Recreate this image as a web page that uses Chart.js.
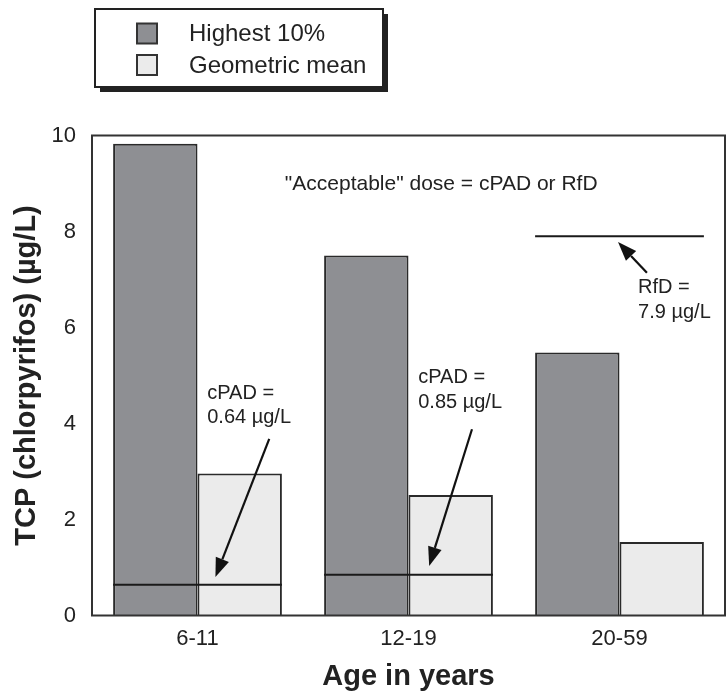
<!DOCTYPE html>
<html>
<head>
<meta charset="utf-8">
<script src="https://cdn.jsdelivr.net/npm/chart.js@4.4.1/dist/chart.umd.min.js"></script>
<style>
  html, body { margin: 0; padding: 0; background: #fff; }
  #wrap { width: 727px; height: 696px; position: relative; }
</style>
</head>
<body>
<div id="wrap"><canvas id="c"></canvas></div>
<script>
// ---- data ----
const categories = ['6-11', '12-19', '20-59'];
const seriesNames = ['Highest 10%', 'Geometric mean'];
const highest10 = [9.83, 7.50, 5.48];
const geometricMean = [2.96, 2.51, 1.53];
const yTickValues = [0, 2, 4, 6, 8, 10];
const limitValues = [0.64, 0.85, 7.9];
const limitNames = ['cPAD =', 'cPAD =', 'RfD ='];
const limitTexts = ['0.64 \u00b5g/L', '0.85 \u00b5g/L', '7.9 \u00b5g/L'];
const noteText = '"Acceptable" dose = cPAD or RfD';

const FONT = '"Liberation Sans", Arial, Helvetica, sans-serif';
const INK = '#222';
const darkFill = '#8e8f93';
const lightFill = '#ebebeb';
const edge = '#2a2a2a';

// annotation placement in data units: [category offset (fraction of category), value]
const labelAnchors = [[0.046, 4.635], [0.046, 4.95], [0.088, 6.83]];
const arrowTails = [[0.340, 3.68], [0.301, 3.88], [0.130, 7.14]];
const arrowTips  = [[0.085, 0.80], [0.098, 1.03], [-0.007, 7.78]];
const noteAnchor = [1.155, 8.99];

const annotPlugin = {
  id: 'annot',
  afterDatasetsDraw(chart) {
    const {ctx, chartArea: a, scales: {x, y}} = chart;
    const catW = a.width / categories.length;
    const px = (i, off) => x.getPixelForValue(i) + off * catW;
    const m0 = chart.getDatasetMeta(0), m1 = chart.getDatasetMeta(1);
    ctx.save();
    // limit lines
    ctx.strokeStyle = '#1a1a1a';
    ctx.lineWidth = 2;
    limitValues.forEach((v, i) => {
      const b0 = m0.data[i], b1 = m1.data[i];
      const x0 = b0.x - b0.width / 2, x1 = b1.x + b1.width / 2;
      const yy = y.getPixelForValue(v);
      ctx.beginPath(); ctx.moveTo(x0, yy); ctx.lineTo(x1, yy); ctx.stroke();
    });
    // arrows
    limitValues.forEach((v, i) => {
      const tx = px(i, arrowTails[i][0]), ty = y.getPixelForValue(arrowTails[i][1]);
      const hx = px(i, arrowTips[i][0]), hy = y.getPixelForValue(arrowTips[i][1]);
      const ang = Math.atan2(hy - ty, hx - tx);
      const L = 19, W = 7;
      const bx = hx - L * Math.cos(ang), by = hy - L * Math.sin(ang);
      ctx.strokeStyle = '#111'; ctx.lineWidth = 2.2;
      ctx.beginPath(); ctx.moveTo(tx, ty); ctx.lineTo(bx, by); ctx.stroke();
      ctx.fillStyle = '#111';
      ctx.beginPath();
      ctx.moveTo(hx, hy);
      ctx.lineTo(bx + W * Math.sin(ang), by - W * Math.cos(ang));
      ctx.lineTo(bx - W * Math.sin(ang), by + W * Math.cos(ang));
      ctx.closePath(); ctx.fill();
    });
    // labels
    ctx.fillStyle = INK;
    ctx.font = '20px ' + FONT;
    ctx.textAlign = 'left'; ctx.textBaseline = 'middle';
    limitValues.forEach((v, i) => {
      const lx = px(i, labelAnchors[i][0]), ly = y.getPixelForValue(labelAnchors[i][1]);
      ctx.fillText(limitNames[i], lx, ly);
      ctx.fillText(limitTexts[i], lx, ly + 24.5);
    });
    ctx.font = '21px ' + FONT;
    ctx.textAlign = 'center';
    const ni = Math.floor(noteAnchor[0]);
    ctx.fillText(noteText, px(ni, noteAnchor[0] - ni), y.getPixelForValue(noteAnchor[1]));
    // frame
    ctx.strokeStyle = '#333'; ctx.lineWidth = 2;
    ctx.strokeRect(a.left, a.top, a.width, a.height);
    ctx.restore();
  },
  afterDraw(chart) {
    // legend box with shadow
    const ctx = chart.ctx;
    const bx = 95, by = 9, bw = 288, bh = 78;
    ctx.save();
    ctx.fillStyle = '#222';
    ctx.fillRect(bx + 5, by + 5, bw, bh);
    ctx.fillStyle = '#fff';
    ctx.fillRect(bx, by, bw, bh);
    ctx.strokeStyle = '#222'; ctx.lineWidth = 2;
    ctx.strokeRect(bx, by, bw, bh);
    const fills = [darkFill, lightFill];
    const rowsY = [33.5, 65];
    seriesNames.forEach((n, i) => {
      ctx.fillStyle = fills[i];
      ctx.fillRect(137, rowsY[i] - 10, 20, 20);
      ctx.strokeStyle = '#333'; ctx.lineWidth = 2;
      ctx.strokeRect(137, rowsY[i] - 10, 20, 20);
      ctx.fillStyle = INK;
      ctx.font = '24px ' + FONT;
      ctx.textAlign = 'left'; ctx.textBaseline = 'middle';
      ctx.fillText(n, 189, rowsY[i] + 1);
    });
    ctx.restore();
  }
};

new Chart(document.getElementById('c'), {
  type: 'bar',
  data: {
    labels: categories,
    datasets: [
      { label: seriesNames[0], data: highest10, backgroundColor: darkFill, borderColor: edge, borderWidth: 2 },
      { label: seriesNames[1], data: geometricMean, backgroundColor: lightFill, borderColor: edge, borderWidth: 2 }
    ]
  },
  options: {
    responsive: true,
    maintainAspectRatio: false,
    animation: false,
    devicePixelRatio: 1,
    layout: { padding: { top: 135.5, right: 2, left: 0, bottom: 1.5 } },
    datasets: { bar: { categoryPercentage: 0.8, barPercentage: 1.0 } },
    plugins: { legend: { display: false }, tooltip: { enabled: false } },
    scales: {
      x: {
        afterFit: (s) => { s.height = 79; },
        grid: { display: false, drawTicks: false },
        border: { display: false },
        ticks: { color: INK, font: { family: FONT, size: 22 }, padding: 10 },
        title: { display: true, text: 'Age in years', color: INK, font: { family: FONT, size: 29, weight: 'bold' }, padding: { top: 0, bottom: 0 } }
      },
      y: {
        min: 0, max: 10,
        afterFit: (s) => { s.width = 92; },
        afterBuildTicks: (s) => { s.ticks = yTickValues.map(v => ({ value: v })); },
        grid: { display: false, drawTicks: false },
        border: { display: false },
        ticks: { color: INK, font: { family: FONT, size: 22 }, padding: 16 },
        title: { display: true, text: 'TCP (chlorpyrifos) (\u00b5g/L)', color: INK, font: { family: FONT, size: 29, weight: 'bold' }, padding: { top: 9.6, bottom: 0 } }
      }
    }
  },
  plugins: [annotPlugin]
});
</script>
</body>
</html>
